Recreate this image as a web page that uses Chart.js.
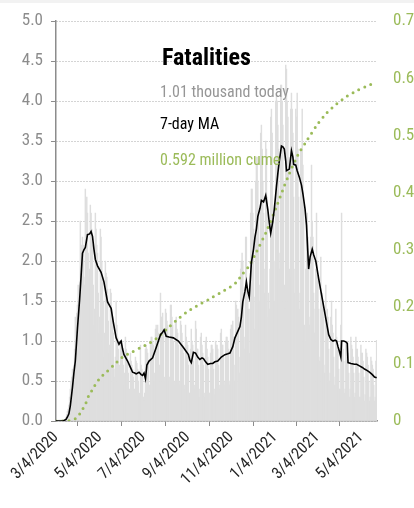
<!DOCTYPE html>
<html>
<head>
<meta charset="utf-8">
<script src="https://cdn.jsdelivr.net/npm/chart.js@4.4.1/dist/chart.umd.min.js"></script>
<style>
  body { margin: 0; background: #f2f2f2; }
  #wrap { position: absolute; top: 3px; left: 0; width: 414px; height: 505px; background: #fff; }
</style>
</head>
<body>
<div id="wrap"><canvas id="myChart"></canvas></div>
<script>
// daily fatalities, thousands, one row per week starting Wed 3/4/2020
const dailyDeaths = [
  0.00,0.00,0.00,0.01,0.00,0.01,0.01,
  0.01,0.01,0.01,0.01,0.01,0.02,0.02,
  0.05,0.08,0.12,0.15,0.20,0.30,0.40,
  0.50,0.55,0.65,0.60,0.70,0.90,1.30,
  1.20,1.35,1.45,1.70,1.55,1.75,2.50,
  2.10,2.20,2.30,2.20,1.80,1.70,2.90,
  2.60,2.80,2.60,2.10,1.80,1.90,2.70,
  2.60,2.40,2.20,1.70,1.20,1.40,2.60,
  2.40,2.20,2.10,1.60,1.10,1.30,2.40,
  2.30,2.00,1.80,1.50,0.80,1.10,2.00,
  1.85,1.80,1.65,1.25,0.85,0.95,1.65,
  1.60,1.40,1.30,1.10,0.65,0.55,0.80,
  1.50,1.20,1.05,0.90,0.60,0.70,1.00,
  1.00,0.95,0.85,0.70,0.45,0.60,1.05,
  0.90,0.85,0.75,0.60,0.35,0.40,0.85,
  0.75,0.70,0.65,0.55,0.30,0.40,0.80,
  0.75,0.72,0.65,0.50,0.30,0.35,0.95,
  0.70,0.65,0.55,0.30,0.25,0.35,0.90,
  0.95,0.90,0.85,0.75,0.45,0.45,1.00,
  1.05,1.05,1.00,0.95,0.50,0.60,1.15,
  1.20,1.15,1.20,1.10,0.55,0.70,1.60,
  1.30,1.30,1.35,1.10,0.50,0.55,1.40,
  1.35,1.25,1.20,1.05,0.50,0.55,1.45,
  1.45,1.30,1.20,1.00,0.45,0.50,1.25,
  1.30,1.15,1.10,0.95,0.45,0.50,1.25,
  1.20,1.10,0.95,0.85,0.40,0.45,1.20,
  1.05,1.00,0.95,0.70,0.35,0.35,0.90,
  1.15,1.00,0.95,0.75,0.40,0.45,1.25,
  1.15,0.90,0.90,0.70,0.30,0.40,1.05,
  1.10,0.95,0.85,0.70,0.30,0.35,1.00,
  1.05,0.90,0.80,0.65,0.35,0.35,0.85,
  0.95,0.95,0.90,0.65,0.40,0.33,1.00,
  0.95,0.95,0.90,0.70,0.40,0.45,1.10,
  1.15,0.95,0.95,0.80,0.45,0.50,1.00,
  1.05,1.05,1.00,0.90,0.45,0.50,1.15,
  1.20,1.20,1.25,1.05,0.50,0.70,1.50,
  1.45,1.30,1.40,1.30,0.60,0.80,1.90,
  2.00,2.10,2.00,1.55,0.90,1.05,2.30,
  2.30,1.40,1.60,1.40,0.85,1.40,2.60,
  2.90,2.90,2.60,2.40,1.15,1.55,3.00,
  3.30,3.30,3.00,2.60,1.50,1.70,3.60,
  3.70,3.40,3.00,2.60,1.60,1.90,3.50,
  3.40,2.80,1.30,1.60,1.40,1.90,3.80,
  3.90,3.60,2.40,2.50,1.50,2.00,4.00,
  4.10,4.00,3.70,3.40,1.90,2.10,4.20,
  4.20,4.00,3.70,3.00,1.70,1.40,4.45,
  4.40,4.00,3.80,3.30,1.90,1.80,3.90,
  4.10,3.90,3.60,2.80,1.60,1.90,3.90,
  3.80,4.10,3.40,2.80,1.40,1.60,3.40,
  3.40,3.90,3.20,2.70,1.20,1.00,1.90,
  2.50,2.60,2.30,1.90,1.20,1.30,2.30,
  3.20,2.50,2.30,1.60,1.10,1.40,1.90,
  2.60,2.00,1.80,1.40,0.75,0.80,2.05,
  1.60,1.60,1.50,1.30,0.60,0.70,1.70,
  1.30,1.40,1.30,0.90,0.50,0.60,1.30,
  1.50,1.20,1.10,0.80,0.45,0.55,1.40,
  1.05,1.00,0.90,0.65,0.40,0.40,1.20,
  2.60,1.00,0.90,0.75,0.35,0.40,1.00,
  0.95,0.90,0.85,0.60,0.30,0.40,1.05,
  0.95,0.90,0.80,0.60,0.30,0.35,1.05,
  0.90,0.90,0.80,0.60,0.30,0.30,0.95,
  0.85,0.85,0.75,0.55,0.25,0.33,0.90,
  0.85,0.80,0.70,0.50,0.25,0.30,0.80,
  0.75,0.70,0.65,0.45,0.25,0.30,0.75,
  1.01
];

// 7-day moving average, thousands (day index from 3/4/2020)
const maDays = [0,10,14,16,18,20,23,25,27,30,33,35,37,39,41,44,47,49,51,53,55,58,63,67,72,77,80,84,88,90,91,93,95,100,104,107,110,112,116,119,121,123,125,127,130,135,140,146,149,151,154,158,164,171,178,185,187,189,192,195,198,201,204,206,209,212,216,219,222,226,231,236,240,243,247,250,254,257,259,261,264,266,268,270,273,276,278,280,282,285,287,290,293,296,298,300,303,305,308,310,312,315,317,319,321,322,324,326,329,331,332,335,337,340,343,345,348,350,353,355,358,360,363,367,372,377,381,384,387,390,392,394,396,398,399,402,405,407,408,412,417,420,424,428,431,435,438,442,445,448];
const maValues = [0.00,0.00,0.02,0.05,0.09,0.19,0.42,0.60,0.75,1.16,1.52,1.80,2.10,2.14,2.17,2.33,2.34,2.37,2.31,2.15,2.02,1.94,1.86,1.74,1.49,1.41,1.24,1.04,0.96,0.99,1.00,0.90,0.83,0.75,0.67,0.61,0.60,0.59,0.61,0.58,0.57,0.60,0.53,0.70,0.75,0.79,0.92,1.08,1.11,1.14,1.06,1.05,1.04,1.00,0.92,0.83,0.76,0.73,0.86,0.85,0.80,0.77,0.79,0.78,0.74,0.71,0.72,0.72,0.74,0.75,0.80,0.83,0.84,0.85,0.93,1.04,1.12,1.18,1.30,1.49,1.62,1.74,1.62,1.55,1.98,2.15,2.30,2.40,2.56,2.66,2.76,2.74,2.82,2.64,2.48,2.35,2.50,2.65,2.93,3.10,3.25,3.44,3.43,3.40,3.25,3.13,3.14,3.15,3.38,3.30,3.21,3.20,3.13,3.05,2.95,2.84,2.65,2.45,1.90,2.05,2.15,2.08,2.00,1.78,1.53,1.28,1.08,1.02,1.00,1.01,1.00,0.93,0.87,0.80,1.00,1.00,0.99,0.97,0.73,0.72,0.71,0.71,0.69,0.67,0.65,0.63,0.61,0.58,0.55,0.54];

// cumulative fatalities, millions
const cumeDays = [0,14,20,27,33,37,42,46,51,56,63,70,80,93,105,119,130,140,154,168,182,196,215,230,243,252,261,270,280,294,308,317,326,338,350,364,378,392,406,420,434,443];
const cumeValues = [0.000,0.000,0.001,0.004,0.012,0.020,0.032,0.045,0.055,0.066,0.077,0.085,0.097,0.112,0.120,0.129,0.136,0.144,0.160,0.176,0.190,0.201,0.214,0.225,0.234,0.243,0.258,0.272,0.296,0.332,0.375,0.405,0.433,0.466,0.490,0.517,0.539,0.555,0.568,0.578,0.586,0.591];

const tickDays = [0, 61, 122, 184, 245, 306, 365, 426];
const tickLabels = ['3/4/2020', '5/4/2020', '7/4/2020', '9/4/2020', '11/4/2020', '1/4/2021', '3/4/2021', '5/4/2021'];

const fontFamily = "'Liberation Sans Narrow', 'Arial Narrow', 'Roboto Condensed', 'DejaVu Sans Condensed', sans-serif";
const green = '#9bbb59';

const notes = {
  id: 'notes',
  afterDatasetsDraw(chart) {
    const ctx = chart.ctx;
    const x0 = chart.chartArea.left;
    ctx.save();
    ctx.textAlign = 'left';
    ctx.textBaseline = 'alphabetic';
    ctx.font = 'bold 24px ' + fontFamily;
    ctx.fillStyle = '#000';
    ctx.fillText('Fatalities', x0 + 106, 62);
    ctx.font = '16px ' + fontFamily;
    ctx.fillStyle = '#969696';
    ctx.fillText('1.01 thousand today', x0 + 104, 94);
    ctx.fillStyle = '#000';
    ctx.fillText('7-day MA', x0 + 104, 126);
    ctx.fillStyle = green;
    ctx.fillText('0.592 million cume', x0 + 104, 162);
    ctx.restore();
  }
};

const config = {
  data: {
    datasets: [
      {
        type: 'line',
        label: '7-day MA',
        data: maDays.map((d, i) => ({x: d, y: maValues[i]})),
        borderColor: '#000',
        borderWidth: 1.6,
        pointRadius: 0,
        tension: 0,
        yAxisID: 'y',
        order: 1
      },
      {
        type: 'line',
        label: 'Cume',
        data: cumeDays.map((d, i) => ({x: d, y: cumeValues[i]})),
        borderColor: green,
        borderWidth: 3,
        borderDash: [0, 6.5],
        borderCapStyle: 'round',
        pointRadius: 0,
        tension: 0.3,
        yAxisID: 'y1',
        order: 2
      },
      {
        type: 'bar',
        label: 'Daily',
        data: dailyDeaths.map((v, i) => ({x: i, y: v})),
        backgroundColor: '#dedede',
        barThickness: 0.8,
        yAxisID: 'y',
        order: 3
      }
    ]
  },
  options: {
    responsive: true,
    maintainAspectRatio: false,
    animation: false,
    layout: { padding: { top: 12 } },
    plugins: {
      legend: { display: false },
      tooltip: { enabled: false }
    },
    scales: {
      x: {
        type: 'linear',
        min: 0,
        max: 448.5,
        offset: false,
        afterBuildTicks: (scale) => { scale.ticks = tickDays.map(v => ({value: v})); },
        afterFit: (scale) => { scale.height = 87; },
        grid: { drawOnChartArea: false, drawTicks: true, tickLength: 5, tickColor: '#8c8c8c' },
        border: { display: true, color: '#8c8c8c', width: 1.5 },
        ticks: {
          autoSkip: false,
          maxRotation: 45,
          minRotation: 45,
          padding: 2,
          color: '#262626',
          font: { family: fontFamily, size: 16 },
          callback: (v) => tickLabels[tickDays.indexOf(v)]
        }
      },
      y: {
        position: 'left',
        min: 0,
        max: 5,
        afterFit: (scale) => { scale.width = 56; },
        grid: { color: '#a8a8a8', tickColor: '#8c8c8c', tickLength: 5, lineWidth: 1 },
        border: { display: true, color: '#8c8c8c', width: 1.5, dash: [1, 2] },
        ticks: {
          stepSize: 0.5,
          padding: 8,
          color: '#8c8c8c',
          font: { family: fontFamily, size: 17 },
          callback: (v) => v.toFixed(1)
        }
      },
      y1: {
        position: 'right',
        min: 0,
        max: 0.7,
        afterFit: (scale) => { scale.width = 37; },
        grid: { display: false, drawOnChartArea: false },
        border: { display: false },
        ticks: {
          stepSize: 0.1,
          padding: 8,
          color: green,
          font: { family: fontFamily, size: 17 },
          callback: (v) => v === 0 ? '0' : v.toFixed(1)
        }
      }
    }
  },
  plugins: [notes]
};

var myChart = new Chart(document.getElementById('myChart'), config);
</script>
</body>
</html>
